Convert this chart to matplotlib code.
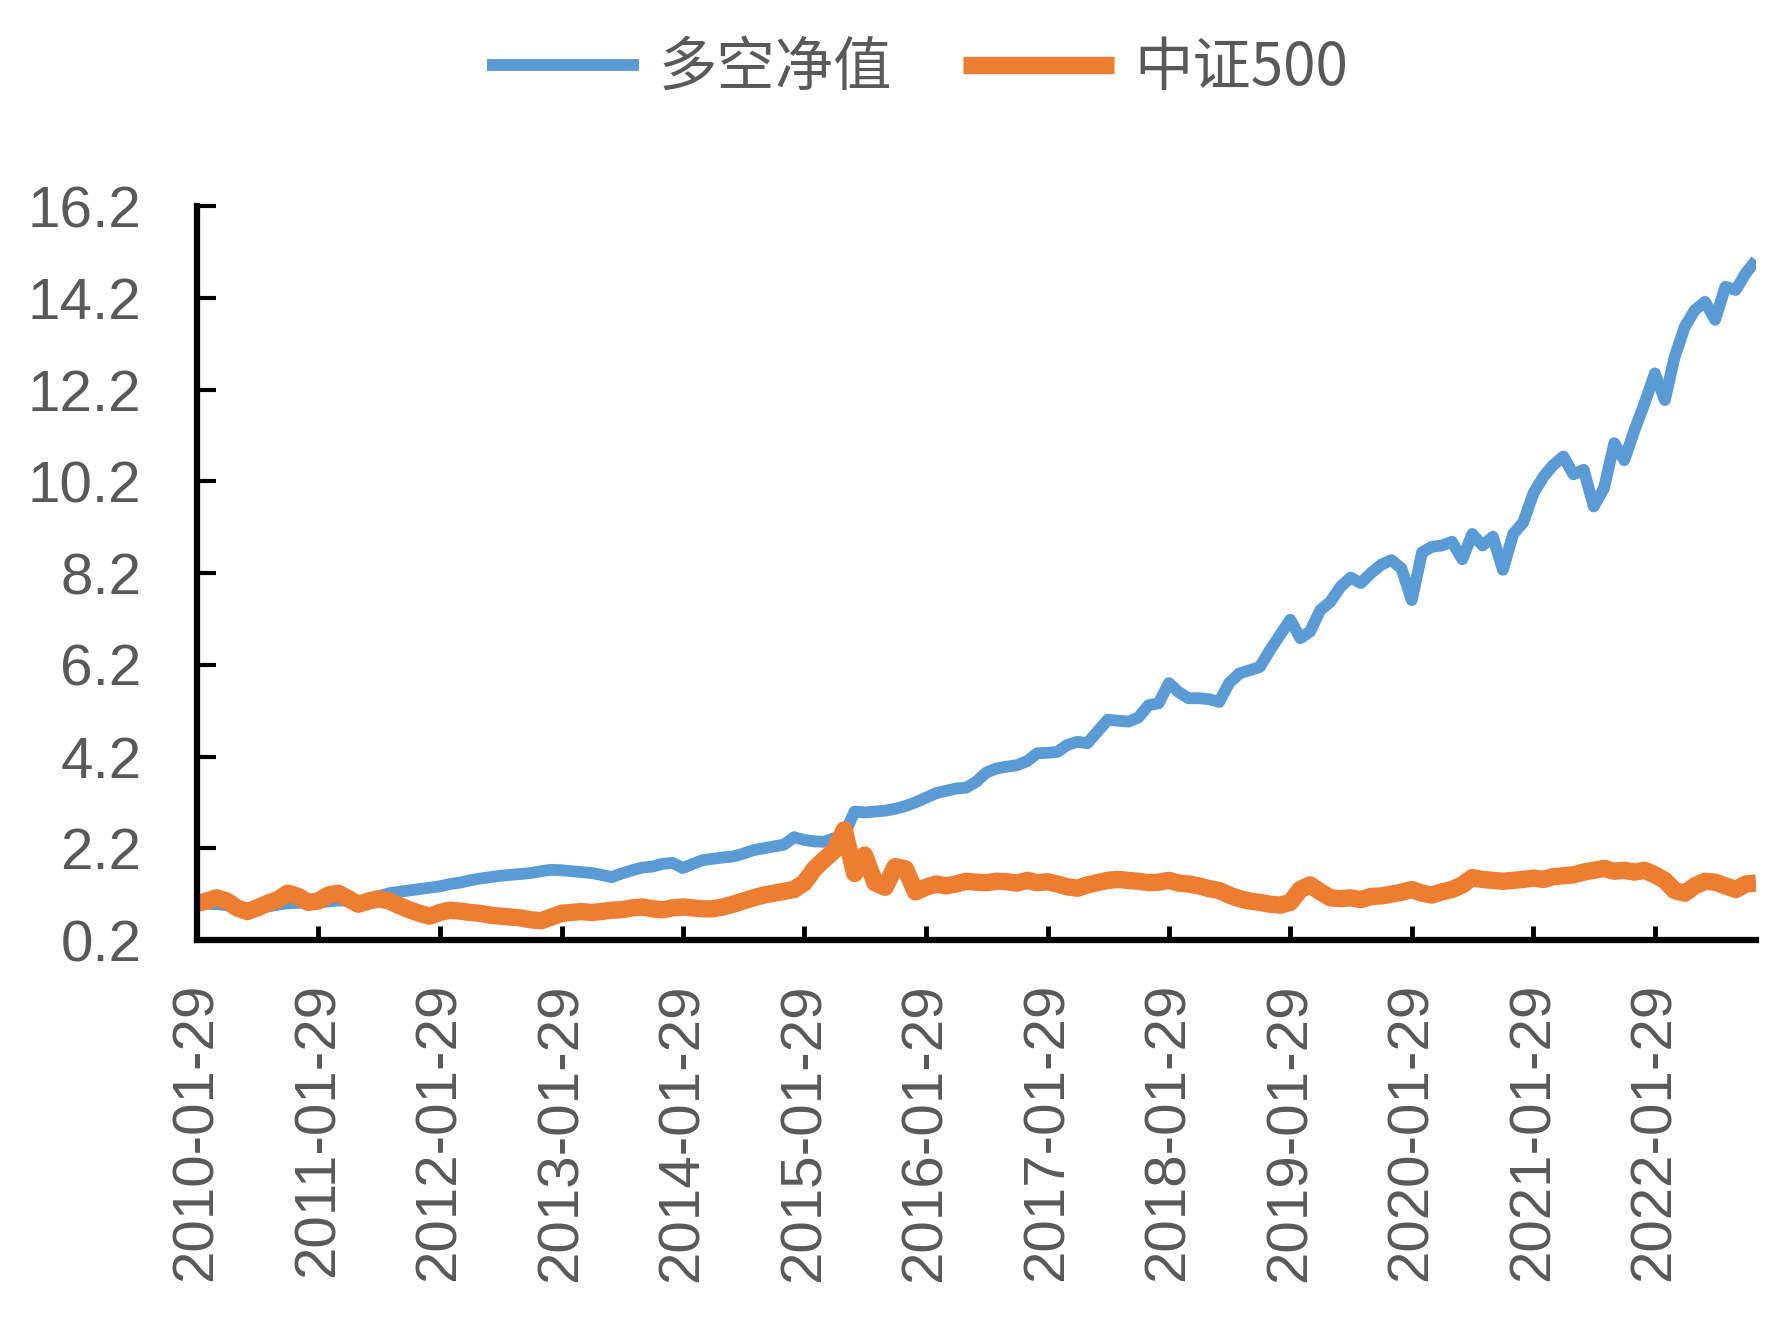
import matplotlib
matplotlib.use("Agg")
import matplotlib.pyplot as plt
import pandas as pd

# ---- data (monthly) ----
start_date = "2010-01-29"
long_short_nav = [
    1.00, 0.99, 0.98, 0.96, 0.90, 0.86, 0.88, 0.93, 0.97, 1.00,
    1.01, 1.01, 1.02, 1.04, 1.06, 1.06, 1.02, 1.06, 1.15, 1.22,
    1.25, 1.28, 1.31, 1.34, 1.37, 1.42, 1.45, 1.50, 1.54, 1.57,
    1.60, 1.62, 1.64, 1.66, 1.70, 1.73, 1.72, 1.70, 1.68, 1.66,
    1.62, 1.57, 1.65, 1.72, 1.78, 1.80, 1.86, 1.88, 1.77, 1.86,
    1.94, 1.97, 2.00, 2.02, 2.08, 2.16, 2.20, 2.24, 2.28, 2.44,
    2.38, 2.35, 2.34, 2.42, 2.50, 3.00, 2.98, 3.00, 3.02, 3.06,
    3.12, 3.20, 3.30, 3.40, 3.45, 3.50, 3.52, 3.65, 3.85, 3.94,
    3.98, 4.01, 4.10, 4.27, 4.28, 4.30, 4.45, 4.52, 4.49, 4.75,
    5.00, 4.98, 4.96, 5.05, 5.32, 5.36, 5.80, 5.60, 5.47, 5.47,
    5.45, 5.39, 5.80, 6.01, 6.08, 6.15, 6.52, 6.85, 7.18, 6.78,
    6.92, 7.39, 7.57, 7.90, 8.10, 7.98, 8.20, 8.38, 8.48, 8.30,
    7.61, 8.65, 8.77, 8.80, 8.88, 8.50, 9.05, 8.80, 8.99, 8.27,
    9.05, 9.30, 9.94, 10.30, 10.55, 10.74, 10.35, 10.45, 9.65, 10.05,
    11.03, 10.66, 11.32, 11.90, 12.55, 11.97, 12.90, 13.57, 13.93, 14.11,
    13.72, 14.44, 14.37, 14.73, 15.02,
]
csi500 = [
    1.00, 1.05, 1.12, 1.05, 0.90, 0.82, 0.90, 1.00, 1.08, 1.22,
    1.15, 1.02, 1.05, 1.18, 1.22, 1.10, 0.98, 1.05, 1.10, 1.05,
    0.95, 0.86, 0.78, 0.72, 0.80, 0.85, 0.83, 0.80, 0.78, 0.74,
    0.72, 0.70, 0.68, 0.64, 0.62, 0.70, 0.78, 0.80, 0.82, 0.80,
    0.82, 0.85, 0.86, 0.90, 0.92, 0.88, 0.86, 0.90, 0.92, 0.90,
    0.88, 0.88, 0.92, 0.98, 1.05, 1.12, 1.18, 1.22, 1.26, 1.30,
    1.45, 1.75, 1.95, 2.15, 2.60, 1.65, 2.05, 1.45, 1.35, 1.80,
    1.75, 1.25, 1.35, 1.42, 1.38, 1.42, 1.48, 1.46, 1.45, 1.48,
    1.47, 1.44, 1.50, 1.45, 1.47, 1.42, 1.36, 1.33, 1.40, 1.45,
    1.50, 1.52, 1.50, 1.48, 1.45, 1.46, 1.50, 1.44, 1.42, 1.38,
    1.32, 1.28, 1.18, 1.10, 1.05, 1.02, 0.98, 0.96, 1.02, 1.30,
    1.40, 1.25, 1.12, 1.10, 1.12, 1.08, 1.15, 1.16, 1.20, 1.24,
    1.30, 1.22, 1.18, 1.25, 1.30, 1.40, 1.56, 1.52, 1.50, 1.48,
    1.50, 1.52, 1.55, 1.52, 1.58, 1.60, 1.62, 1.68, 1.72, 1.76,
    1.70, 1.72, 1.68, 1.72, 1.62, 1.50, 1.28, 1.22, 1.38, 1.48,
    1.46, 1.38, 1.30, 1.42, 1.44,
]
series_names = ["多空净值", "中证500"]
y_ticks = [0.2, 2.2, 4.2, 6.2, 8.2, 10.2, 12.2, 14.2, 16.2]
x_tick_labels = ["2010-01-29", "2011-01-29", "2012-01-29", "2013-01-29",
                 "2014-01-29", "2015-01-29", "2016-01-29", "2017-01-29",
                 "2018-01-29", "2019-01-29", "2020-01-29", "2021-01-29",
                 "2022-01-29"]

dates = [pd.Timestamp(start_date) + pd.DateOffset(months=i)
         for i in range(len(long_short_nav))]
tick_dates = [pd.Timestamp(s) for s in x_tick_labels]

BLUE = "#5B9BD5"
ORANGE = "#ED7D31"
GRAY = "#595959"

fig = plt.figure(figsize=(17.82, 13.23), dpi=100)
W, H = 1782, 1323
ax = fig.add_axes([197 / W, 1 - 940 / H, (1756 - 197) / W, (940 - 206) / H])

l1, = ax.plot(dates, long_short_nav, color=BLUE, lw=8.5,
              solid_joinstyle="round", solid_capstyle="butt", label=series_names[0])
l2, = ax.plot(dates, csi500, color=ORANGE, lw=12.5,
              solid_joinstyle="round", solid_capstyle="butt", label=series_names[1])

ax.set_ylim(0.2, 16.2)
ax.set_yticks(y_ticks)
ax.set_yticklabels([f"{v:.1f}" for v in y_ticks])
ax.set_xlim(dates[0], dates[-1])
ax.set_xticks(tick_dates)
ax.set_xticklabels(x_tick_labels, rotation=90)

for s in ["top", "right"]:
    ax.spines[s].set_visible(False)
for s in ["left", "bottom"]:
    ax.spines[s].set_color("black")
    ax.spines[s].set_linewidth(4.5)

ax.tick_params(axis="y", direction="in", length=14, width=3, pad=40,
               labelsize=42, labelcolor=GRAY, color="black")
ax.tick_params(axis="x", direction="in", length=10, width=3.5, pad=31,
               labelsize=42, labelcolor=GRAY, color="black")
for lab in ax.get_xticklabels() + ax.get_yticklabels():
    lab.set_fontfamily(["Liberation Sans", "DejaVu Sans"])

leg = fig.legend(handles=[l1, l2], loc="center", bbox_to_anchor=(0.515, 0.948),
                 ncol=2, frameon=False, handlelength=2.6, handletextpad=0.35,
                 columnspacing=1.2,
                 prop={"family": ["Noto Sans CJK SC", "DejaVu Sans"], "size": 42})
for t in leg.get_texts():
    t.set_color(GRAY)

fig.savefig("out.png", dpi=100)
